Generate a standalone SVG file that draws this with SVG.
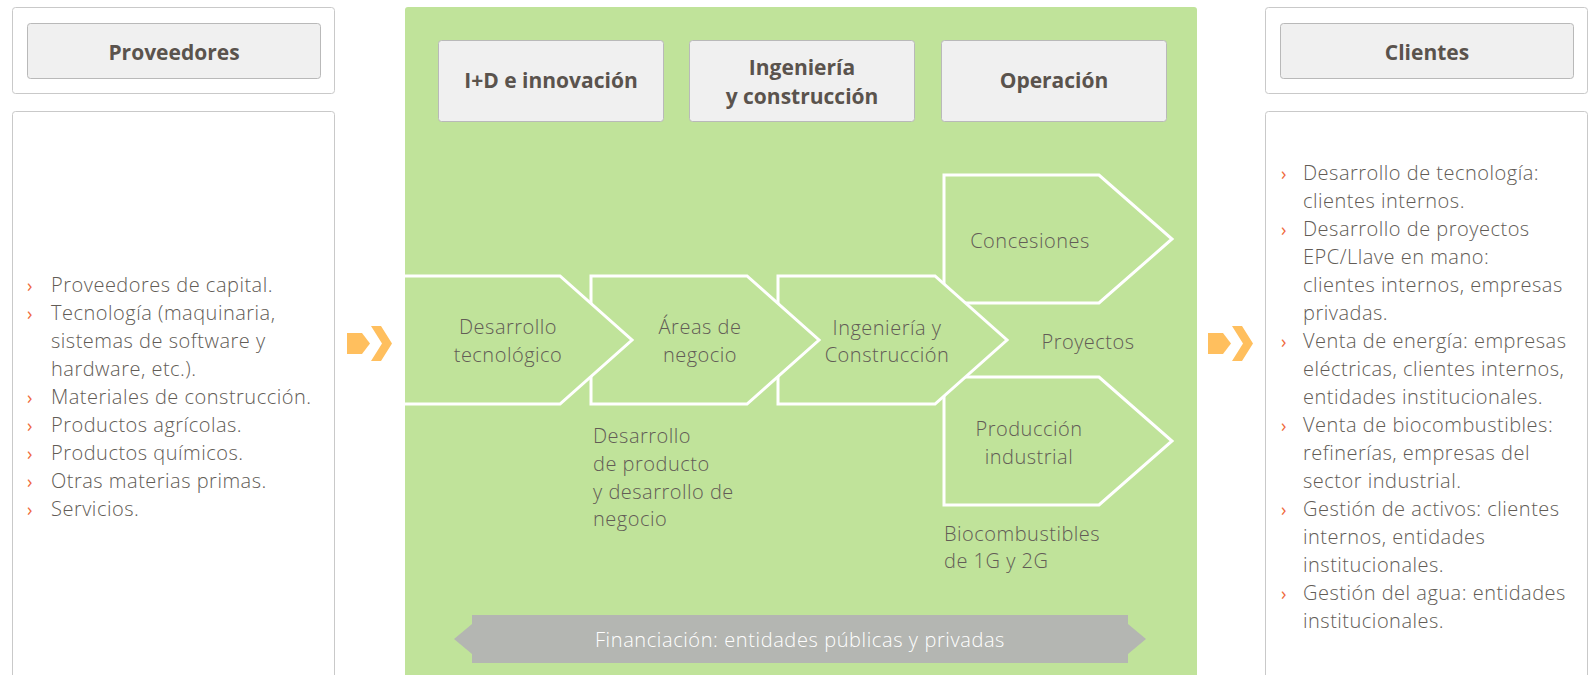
<svg xmlns="http://www.w3.org/2000/svg" width="1593" height="675" viewBox="0 0 1593 675">
<style>
.outer{fill:#ffffff;stroke:#c9c9c9;stroke-width:1}
.hdr{fill:#f0f0f0;stroke:#b9b9b9;stroke-width:1}
.ht{font-family:"Open Sans","Liberation Sans",sans-serif;font-weight:700;font-size:21px;fill:#5a534d;text-anchor:middle}
.bt{font-family:"Open Sans","Liberation Sans",sans-serif;font-weight:300;font-size:20px;letter-spacing:0.5px;fill:#625c56}
.bu{font-family:"Open Sans","Liberation Sans",sans-serif;font-weight:400;font-size:18px;fill:#ef6a3c}
.c{text-anchor:middle}
.chf{fill:#c0e39a}
.chs{fill:none;stroke:#ffffff;stroke-width:3;stroke-linejoin:miter}
.ch{fill:#c0e39a;stroke:#ffffff;stroke-width:3}
.org{fill:#ffbf5e}
.wt{font-family:"Open Sans","Liberation Sans",sans-serif;font-weight:300;font-size:20px;letter-spacing:0.6px;fill:#ffffff;text-anchor:middle}
</style>
<rect x="0" y="0" width="1593" height="675" fill="#ffffff"/>

<g id="proveedores">
<rect class="outer" x="12.5" y="7.5" width="322" height="86" rx="3"/>
<rect class="hdr" x="27.5" y="23.5" width="293" height="55" rx="3"/>
<text class="ht" x="174" y="60">Proveedores</text>
</g>

<g id="proveedores-lista">
<rect class="outer" x="12.5" y="111.5" width="322" height="580" rx="3"/>
<text class="bu" x="27" y="292">›</text>
<text class="bu" x="27" y="320">›</text>
<text class="bu" x="27" y="404">›</text>
<text class="bu" x="27" y="432">›</text>
<text class="bu" x="27" y="460">›</text>
<text class="bu" x="27" y="488">›</text>
<text class="bu" x="27" y="516">›</text>
<text class="bt" x="51" y="292">Proveedores de capital.</text>
<text class="bt" x="51" y="320">Tecnología (maquinaria,</text>
<text class="bt" x="51" y="348">sistemas de software y</text>
<text class="bt" x="51" y="376">hardware, etc.).</text>
<text class="bt" x="51" y="404">Materiales de construcción.</text>
<text class="bt" x="51" y="432">Productos agrícolas.</text>
<text class="bt" x="51" y="460">Productos químicos.</text>
<text class="bt" x="51" y="488">Otras materias primas.</text>
<text class="bt" x="51" y="516">Servicios.</text>
</g>

<g id="panel">
<rect x="405" y="7" width="792" height="690" rx="3" fill="#c0e39a"/>
</g>

<g id="hdr-id">
<rect class="hdr" x="438.5" y="40.5" width="225" height="81" rx="3"/>
<text class="ht" x="551" y="88">I+D e innovación</text>
</g>
<g id="hdr-ing">
<rect class="hdr" x="689.5" y="40.5" width="225" height="81" rx="3"/>
<text class="ht" x="802" y="75">Ingeniería</text>
<text class="ht" x="802" y="104">y construcción</text>
</g>
<g id="hdr-op">
<rect class="hdr" x="941.5" y="40.5" width="225" height="81" rx="3"/>
<text class="ht" x="1054" y="88">Operación</text>
</g>

<g id="concesiones">
<path class="ch" d="M944,175 H1099 L1172,239 L1099,303 H944 Z"/>
<text class="bt c" x="1030" y="248">Concesiones</text>
</g>
<g id="produccion">
<path class="ch" d="M944,377 H1099 L1172,441 L1099,505 H944 Z"/>
<text class="bt c" x="1029" y="436">Producción</text>
<text class="bt c" x="1029" y="464">industrial</text>
</g>
<g id="ingenieria">
<path class="ch" d="M778,276 H935 L1007,340 L935,404 H778 Z"/>
<text class="bt c" x="887" y="335">Ingeniería y</text>
<text class="bt c" x="887" y="362">Construcción</text>
</g>
<g id="areas">
<path class="ch" d="M591,276 H747 L819,340 L747,404 H591 Z"/>
<text class="bt c" x="700" y="334">Áreas de</text>
<text class="bt c" x="700" y="362">negocio</text>
</g>
<g id="desarrollo">
<path class="chf" d="M405,276 H560 L632,340 L560,404 H405 Z"/>
<path class="chs" d="M405,276 H560 L632,340 L560,404 H405"/>
<text class="bt c" x="508" y="334">Desarrollo</text>
<text class="bt c" x="508" y="362">tecnológico</text>
</g>

<g id="etiquetas">
<text class="bt c" x="1088" y="349">Proyectos</text>
<text class="bt" x="593" y="443">Desarrollo</text>
<text class="bt" x="593" y="471">de producto</text>
<text class="bt" x="593" y="499">y desarrollo de</text>
<text class="bt" x="593" y="526">negocio</text>
<text class="bt" x="944" y="541">Biocombustibles</text>
<text class="bt" x="944" y="568">de 1G y 2G</text>
</g>

<g id="financiacion">
<path d="M472,615 H1128 V624 L1146,639 L1128,654 V663 H472 V654 L454,639 L472,624 Z" fill="#b4b6b2"/>
<text class="wt" x="800" y="647">Financiación: entidades públicas y privadas</text>
</g>

<g id="clientes">
<rect class="outer" x="1265.5" y="7.5" width="322" height="86" rx="3"/>
<rect class="hdr" x="1280.5" y="23.5" width="293" height="55" rx="3"/>
<text class="ht" x="1427" y="60">Clientes</text>
</g>

<g id="clientes-lista">
<rect class="outer" x="1265.5" y="111.5" width="322" height="580" rx="3"/>
<text class="bu" x="1281" y="180">›</text>
<text class="bu" x="1281" y="236">›</text>
<text class="bu" x="1281" y="348">›</text>
<text class="bu" x="1281" y="432">›</text>
<text class="bu" x="1281" y="516">›</text>
<text class="bu" x="1281" y="600">›</text>
<text class="bt" x="1303" y="180">Desarrollo de tecnología:</text>
<text class="bt" x="1303" y="208">clientes internos.</text>
<text class="bt" x="1303" y="236">Desarrollo de proyectos</text>
<text class="bt" x="1303" y="264">EPC/Llave en mano:</text>
<text class="bt" x="1303" y="292">clientes internos, empresas</text>
<text class="bt" x="1303" y="320">privadas.</text>
<text class="bt" x="1303" y="348">Venta de energía: empresas</text>
<text class="bt" x="1303" y="376">eléctricas, clientes internos,</text>
<text class="bt" x="1303" y="404">entidades institucionales.</text>
<text class="bt" x="1303" y="432">Venta de biocombustibles:</text>
<text class="bt" x="1303" y="460">refinerías, empresas del</text>
<text class="bt" x="1303" y="488">sector industrial.</text>
<text class="bt" x="1303" y="516">Gestión de activos: clientes</text>
<text class="bt" x="1303" y="544">internos, entidades</text>
<text class="bt" x="1303" y="572">institucionales.</text>
<text class="bt" x="1303" y="600">Gestión del agua: entidades</text>
<text class="bt" x="1303" y="628">institucionales.</text>
</g>

<g id="conectores">
<g id="flecha-izq">
<path class="org" d="M347,333 H362 L370,343.5 L362,354 H347 Z"/>
<path class="org" d="M371,326 H381 L392,343.5 L381,361 H371 L382,343.5 Z"/>
</g>
<g id="flecha-der">
<path class="org" d="M1208,333 H1223 L1231,343.5 L1223,354 H1208 Z"/>
<path class="org" d="M1232,326 H1242 L1253,343.5 L1242,361 H1232 L1243,343.5 Z"/>
</g>
</g>
</svg>
